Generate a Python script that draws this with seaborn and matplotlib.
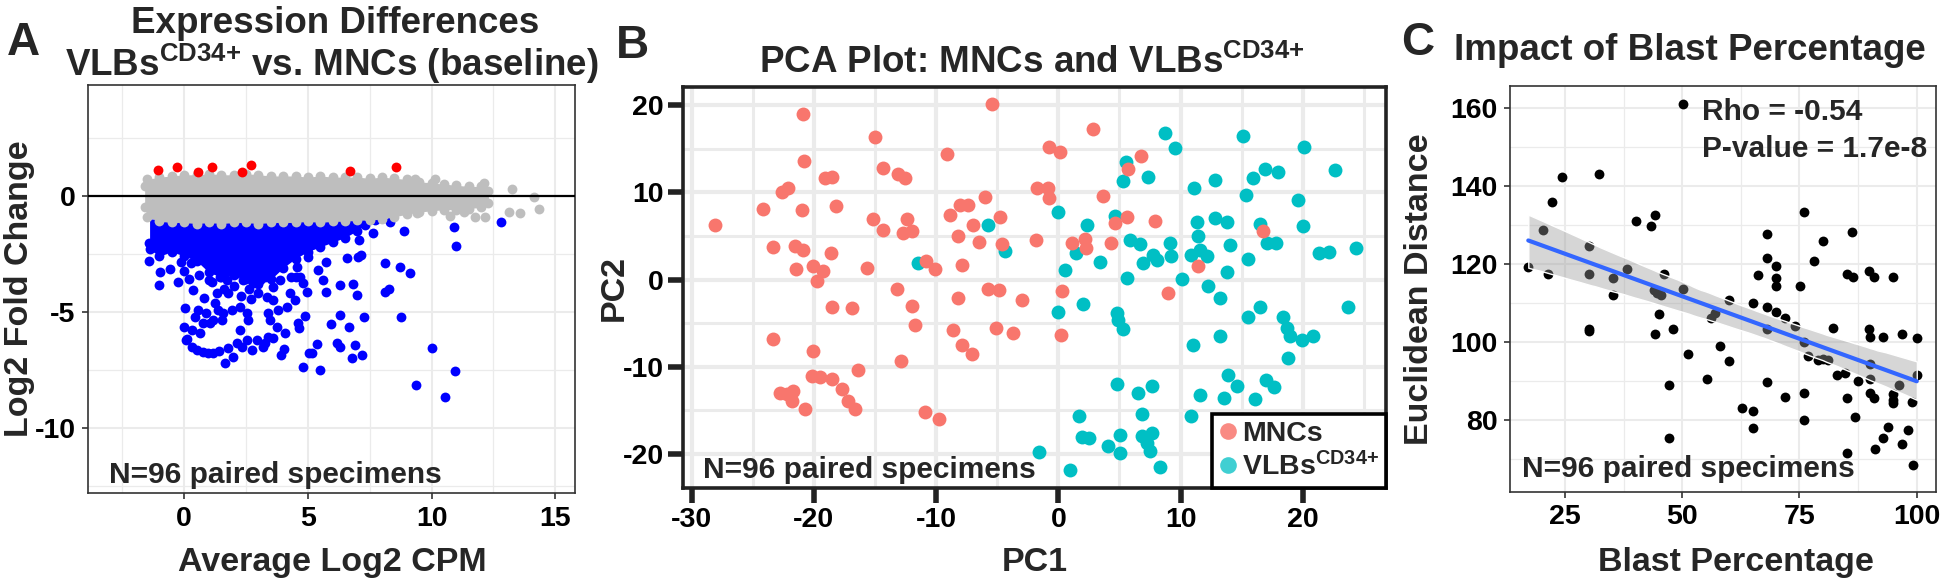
import numpy as np
import pandas as pd
import matplotlib
matplotlib.use("Agg")
import matplotlib.pyplot as plt
import matplotlib.transforms as mtransforms
from matplotlib.lines import Line2D
import seaborn as sns

# ---------------- Panel A: MA plot ----------------
# dense band of non-significant genes (grey), given by its upper / lower edge
grey_band_x = [-1.6, -1.5, -1.0, -0.5, 0.0, 0.5, 1.0, 1.5, 2.0, 2.5, 3.0, 3.5, 4.0, 4.5, 5.0,
               5.5, 6.0, 6.5, 7.0, 7.5, 8.0, 8.5, 9.0, 9.5, 10.0, 10.5, 11.0, 11.5, 12.0, 12.3]
grey_band_top = [0.4, 0.7, 0.8, 0.85, 0.9, 0.9, 0.95, 0.9, 0.9, 0.95, 0.9, 0.85, 0.85, 0.85, 0.8,
                 0.85, 0.8, 0.8, 0.8, 0.75, 0.8, 0.75, 0.7, 0.6, 0.55, 0.5, 0.45, 0.4, 0.4, 0.2]
grey_band_bot = [-0.5, -0.9, -1.1, -1.15, -1.15, -1.2, -1.15, -1.2, -1.15, -1.15, -1.2, -1.15, -1.15, -1.15, -1.1,
                 -1.15, -1.1, -1.1, -1.05, -1.05, -1.0, -0.9, -0.8, -0.7, -0.65, -0.6, -0.6, -0.55, -0.5, -0.3]
# isolated grey genes at high expression
grey_x = [9.34, 10.15, 12.11, 13.25, 14.13, 14.33, 13.12, 13.56, 12.17, 11.77, 10.76, 9.41, 11.30, 9.14, 11.84, 11.43]
grey_y = [0.72, 0.74, 0.53, 0.29, -0.04, -0.59, -0.72, -0.76, -0.90, -0.90, -0.86, -0.76, -0.69, -0.47, 0.10, 0.24]

# dense core of down-regulated genes (blue): lower edge, upper edge sits under the grey band
blue_core_x = [-1.4, -1.0, -0.5, 0.0, 0.5, 1.0, 1.5, 2.0, 2.5, 3.0, 3.5, 4.0, 4.5, 5.0, 5.5, 6.0, 6.5, 7.0, 7.3]
blue_core_bot = [-2.3, -2.6, -2.4, -2.6, -2.8, -3.3, -3.5, -3.4, -3.6, -3.8, -3.6, -3.1, -2.7, -2.4, -2.2, -2.0, -1.8, -1.5, -1.25]
blue_core_top = -1.0
# individual down-regulated genes
blue_x = [-1.42, -1.42, -0.99, -1.01, -0.58, -0.24, -0.11, -0.01, 0.27, 0.36, 0.03, -0.01, 0.13, 0.30, 0.43,
          0.57, 0.63, 0.90, 0.77, 1.04, 1.17, 1.00, 1.11, 1.44, 1.31, 1.24, 1.38, 1.58, 1.51, 1.78,
          1.92, 1.71, 2.12, 2.25, 2.39, 2.52, 2.59, 2.25, 2.70, 2.79, 2.93, 3.06, 3.27, 3.33, 3.40,
          3.47, 3.60, 3.74, 3.81, 3.87, 4.08, 4.14, 4.28, 4.48, 4.52, 4.55, 4.68, 4.82, 4.95, 5.02,
          5.40, 5.63, 5.74, 5.74, 6.30, 6.57, 6.84, 6.98, 7.04, 7.15, 7.07, 7.65, 7.72, 8.12, 8.33,
          8.73, 8.87, 9.11, 8.12, 8.26, 8.77, 7.25, 6.30, 5.92, 6.65, 4.62, 4.64, 4.89,
          0.09, 0.30, 0.50, 0.77, 0.97, 1.17, 1.42, 1.65, 1.78, 1.98, 2.12, 2.32, 2.52, 2.73, 2.93,
          3.20, 3.27, 3.40, 3.60, 3.90, 4.04, 5.06, 5.16, 5.36, 4.82, 5.49, 6.17, 6.28, 6.77, 6.91, 7.18,
          10.01, 10.93, 9.38, 10.53, 10.89, 11.00, 12.81,
          0.6, 1.6, 2.0, 2.6, 3.0, 3.6, 0.2, 3.9, 1.2, 0.8, 2.3, 4.3]
blue_y = [-2.05, -2.79, -3.27, -3.84, -3.17, -3.70, -2.87, -3.22, -2.91, -4.05, -4.81, -5.63, -6.17, -5.77, -5.20,
          -4.91, -5.92, -5.06, -5.49, -5.49, -5.34, -3.62, -3.70, -3.48, -4.20, -4.63, -4.91, -5.06, -5.34, -4.20,
          -4.91, -3.62, -3.34, -4.77, -3.62, -5.06, -5.34, -5.77, -4.46, -3.77, -3.19, -3.62, -3.48, -4.34, -5.06,
          -5.34, -3.91, -5.63, -4.91, -3.62, -5.92, -4.77, -4.20, -4.48, -3.48, -3.05, -3.48, -3.77, -4.13, -2.62,
          -3.19, -3.62, -2.84, -4.13, -3.84, -2.69, -3.80, -4.27, -2.62, -2.55, -1.91, -1.62, -1.05, -2.91, -1.12,
          -3.05, -1.52, -3.34, -4.13, -4.03, -5.23, -5.23, -5.13, -5.53, -5.66, -5.49, -5.70, -5.17,
          -6.20, -6.49, -6.63, -6.70, -6.78, -6.75, -6.68, -7.18, -6.56, -6.92, -6.35, -6.49, -6.20, -6.63, -6.20,
          -6.49, -6.35, -6.06, -6.13, -6.86, -6.60, -6.75, -6.78, -6.39, -7.35, -7.49, -6.35, -6.49, -6.99, -6.42, -6.85,
          -6.53, -7.55, -8.14, -8.64, -1.33, -2.15, -1.13,
          -3.4, -4.0, -3.9, -4.0, -4.2, -4.5, -3.6, -3.0, -2.9, -4.4, -4.3, -3.5]
# up-regulated genes
red_x = [-1.05, -0.31, 0.57, 1.11, 2.32, 2.70, 6.71, 8.58]
red_y = [1.10, 1.22, 1.03, 1.22, 1.03, 1.30, 1.07, 1.22]

# ---------------- Panel B: PCA ----------------
mnc_pc1 = [-28.09, -24.19, -23.32, -23.32, -22.63, -22.09, -20.92, -20.81, -21.00, -21.49, -21.55, -20.86,
           -20.04, -19.77, -19.23, -19.09, -18.55, -18.22, -18.60, -18.55, -20.10, -20.18, -19.50, -18.55,
           -17.73, -17.18, -16.64, -16.36, -16.86, -22.77, -22.23, -21.82, -21.68, -20.73, -15.68, -15.14,
           -15.00, -14.37, -14.37, -13.23, -13.09, -12.55, -12.41, -12.68, -12.00, -12.00, -11.70, -12.87,
           -10.83, -10.09, -10.91, -9.74, -9.14, -8.86, -8.18, -8.04, -7.91, -7.36, -8.18, -8.59, -7.91,
           -7.09, -6.95, -6.46, -5.99, -5.73, -4.83, -4.77, -4.64, -5.10, -5.45, -3.68, -3.00,
           -1.82, -0.74, 0.14, -1.77, -0.82, -0.74, 2.81, 3.63, 0.28, 0.22, 1.09, 2.18, 2.27, 4.29, 4.64,
           5.59, 5.67, 6.74, 7.91, 9.00, 11.46, 16.78]
mnc_pc2 = [6.22, 8.09, 3.74, -6.79, 10.11, 10.50, 18.97, 13.63, 8.02, 1.22, 3.82, 3.44,
           1.53, -0.19, 0.95, 11.64, 11.83, 8.40, 3.05, -3.17, -8.21, -11.07, -11.18, -11.45,
           -12.60, -13.93, -14.89, -10.31, -3.24, -12.98, -13.17, -13.93, -12.79, -14.81, 1.34, 6.95,
           16.41, 12.86, 5.65, -1.07, 12.14, 11.64, 6.95, 5.34, 5.53, -3.05, -5.23, -9.35,
           2.10, 1.22, -15.19, -16.03, 14.39, 7.44, 4.96, 8.59, 1.72, 8.59, -2.10, -5.80, -7.44,
           -8.51, 6.30, 4.27, 9.47, -1.07, -1.22, 7.18, 4.12, -5.53, 20.15, -6.11, -2.29,
           4.58, 15.27, 14.69, 10.50, 10.50, 9.35, 17.25, 9.54, -1.34, -6.30, 4.20, 4.66, 3.63, 4.20, 6.49,
           7.18, 12.67, 14.20, 6.68, -1.53, 1.53, 5.53]
vlb_pc1 = [-11.46, -5.73, -4.36,
           -0.05, 0.55, 0.00, 1.45, 2.05, 2.38, 3.41, 4.64, 5.26, 5.54, 5.59, 5.87, 6.69, 6.90, 7.37,
           7.78, 8.05, 8.73, 9.14, 9.20, 9.55, 10.10, 10.83, 11.13, 11.38, 11.46, 11.60, 12.14, 12.28,
           12.82, 12.82, 13.23, 13.78, 13.78, 14.05, 15.09, 15.36, 15.55, 15.55, 15.96, 16.50, 16.50,
           16.91, 17.05, 17.81, 18.00, 18.41, 18.69, 18.96, 18.82, 19.64, 20.00, 19.91, 20.10, 20.87,
           21.28, 22.10, 22.64, 23.73, 24.36, 4.77, 4.91, 5.26, 11.00, 13.23, 4.77, 6.55, 7.64, 6.82,
           1.72, 1.91, 2.54, 4.09, 5.05, 5.05, 6.82, 7.64, 7.23, 7.50, 8.32, -1.55, 0.95, 10.83, 11.60,
           13.56, 13.91, 14.59, 16.09, 16.99, 17.65]
vlb_pc2 = [1.91, 6.22, 3.32,
           7.75, 1.07, -3.74, 3.05, -2.75, 6.22, 1.98, 7.25, 11.26, 13.55, 0.19, 4.58, 4.12, 1.91, 11.83,
           2.86, 2.29, 16.79, 4.20, 2.75, 15.08, 0.08, 2.86, 10.50, 6.56, 4.96, 3.44, 2.67, -0.69,
           11.45, 7.06, -2.10, 6.56, 0.84, 4.01, 16.49, 9.73, 2.37, -4.27, 11.64, 6.41, -3.13,
           12.67, 4.20, 4.20, 12.40, -4.27, -5.53, -6.49, -8.97, 9.16, 6.11, -6.87, 15.27, -6.49,
           3.05, 3.13, 12.60, -3.13, 3.63, -3.82, -4.58, -5.65, -7.44, -6.41, -12.02, -12.98, -12.21, -15.46,
           -15.65, -18.02, -18.13, -19.08, -17.86, -19.85, -17.94, -17.56, -18.78, -19.66, -21.45, -19.77, -21.87,
           -15.65, -13.28, -13.55, -10.99, -12.21, -13.74, -11.56, -12.29]

# ---------------- Panel C: blast percentage vs distance ----------------
blast_pct = [17.2, 20.4, 21.3, 22.3, 24.4, 30.2, 30.2, 30.2, 30.2, 32.2, 35.3, 35.3, 38.3, 40.1, 43.3,
             44.2, 44.0, 44.7, 45.4, 45.1, 44.2, 46.2, 47.2, 47.2, 48.1, 50.1, 50.1, 51.3, 55.2, 56.1,
             57.0, 58.0, 60.0, 60.0, 62.7, 65.2, 65.2, 65.2, 66.1, 68.0, 68.0, 68.0, 68.0, 68.0, 70.0,
             70.0, 70.0, 70.0, 71.9, 71.9, 74.0, 75.1, 76.0, 76.0, 76.0, 76.0, 76.9, 78.0, 79.0, 80.1,
             80.1, 81.1, 82.1, 83.1,
             86.1, 85.1, 86.5, 89.9, 90.8, 94.9, 89.9, 90.0, 92.7, 96.8, 100.0, 90.0, 84.7, 87.5, 90.0,
             100.0, 96.3, 90.0, 90.8, 95.0, 95.0, 95.0, 98.9, 86.8, 93.9, 92.9, 98.2, 96.8, 91.1, 99.1,
             85.1, 85.1]
eucl_dist = [119.1, 128.8, 117.5, 135.8, 142.2, 124.6, 117.5, 103.4, 102.8, 143.0, 116.4, 111.9, 118.6, 131.1, 129.8,
             132.5, 113.3, 112.4, 112.1, 107.1, 102.0, 117.5, 88.9, 75.4, 103.3, 161.0, 113.6, 97.0, 90.6, 106.0,
             107.5, 99.0, 110.7, 95.1, 83.1, 110.0, 82.2, 77.9, 117.1, 127.6, 121.4, 109.0, 103.4, 89.6, 119.5,
             116.3, 114.4, 107.7, 106.2, 85.9, 104.1, 114.4, 133.2, 100.0, 87.0, 79.9, 96.4, 120.7, 95.3, 125.8,
             95.6, 95.3, 103.6, 91.4,
             128.2, 117.5, 116.5, 118.2, 116.5, 116.5, 103.2, 101.3, 101.3, 102.0, 100.9, 94.4, 91.9, 90.0, 90.6,
             91.4, 88.9, 86.9, 85.5, 86.7, 85.0, 84.2, 84.6, 80.8, 78.2, 75.4, 77.5, 73.9, 72.6, 68.3,
             85.6, 71.6]

MNC_COLOR = "#F8766D"
VLB_COLOR = "#00BFC4"
SUP = r"$^{\text{CD34+}}$"

# ---------------- style ----------------
sns.set_style("white")
plt.rcParams["font.family"] = ["Liberation Sans", "DejaVu Sans"]
plt.rcParams["font.weight"] = "bold"
plt.rcParams["axes.labelweight"] = "bold"
plt.rcParams["axes.unicode_minus"] = False
plt.rcParams["mathtext.fontset"] = "custom"
plt.rcParams["mathtext.rm"] = "Liberation Sans:bold"
plt.rcParams["mathtext.bf"] = "Liberation Sans:bold"
plt.rcParams["mathtext.it"] = "Liberation Sans:bold"

W, H = 1943, 586
fig = plt.figure(figsize=(W / 100, H / 100), dpi=100)
# transform for positions given in figure pixels measured from the top-left corner
px = mtransforms.Affine2D().scale(1 / W, -1 / H).translate(0, 1) + fig.transFigure


def panel(l, t, r, b):
    return fig.add_axes([l / W, 1 - b / H, (r - l) / W, (b - t) / H])


def style(ax, gmaj, gmin, spine_w, spine_c, tlen, twid, pad):
    ax.set_axisbelow(True)
    ax.grid(True, which="major", color="#EBEBEB", lw=gmaj)
    ax.grid(True, which="minor", color="#EBEBEB", lw=gmin)
    for sp in ax.spines.values():
        sp.set_visible(True)
        sp.set_linewidth(spine_w)
        sp.set_color(spine_c)
    ax.tick_params(which="major", bottom=True, left=True, length=tlen, width=twid,
                   color=spine_c, pad=pad, labelsize=20.5, labelcolor="black")
    ax.tick_params(which="minor", length=0)


FS_LAB = 24.5
FS_NOTE = 21.5

# ---------------- Panel A ----------------
axA = panel(88, 85, 575, 493)
axA.fill_between(blue_core_x, blue_core_bot, blue_core_top, color="blue", lw=0, zorder=2)
sns.scatterplot(x=blue_core_x, y=blue_core_bot, ax=axA, color="blue", s=50, linewidth=0, zorder=2)
sns.scatterplot(x=blue_x, y=blue_y, ax=axA, color="blue", s=50, linewidth=0, zorder=2)
axA.fill_between(grey_band_x, grey_band_bot, grey_band_top, color="#BEBEBE", lw=0, zorder=3)
sns.scatterplot(x=grey_band_x + grey_band_x, y=grey_band_top + grey_band_bot, ax=axA,
                color="#BEBEBE", s=50, linewidth=0, zorder=3)
sns.scatterplot(x=grey_x, y=grey_y, ax=axA, color="#BEBEBE", s=50, linewidth=0, zorder=3)
sns.scatterplot(x=red_x, y=red_y, ax=axA, color="red", s=50, linewidth=0, zorder=4)
axA.axhline(0, color="black", lw=1.6, zorder=5)
axA.set_xlim(-3.89, 15.8)
axA.set_ylim(-12.78, 4.76)
axA.set_xticks([0, 5, 10, 15])
axA.set_yticks([-10, -5, 0])
axA.set_xticks([-2.5, 2.5, 7.5, 12.5], minor=True)
axA.set_yticks([-12.5, -7.5, -2.5, 2.5], minor=True)
style(axA, 1.5, 0.9, 1.2, "#333333", 4, 1.2, 5)
axA.set_xlabel("Average Log2 CPM", fontsize=FS_LAB, va="baseline")
axA.set_ylabel("Log2 Fold Change", fontsize=FS_LAB, va="center")
axA.xaxis.set_label_coords(332, 571, transform=px)
axA.yaxis.set_label_coords(20, 289, transform=px)
fig.text(109, 483, "N=96 paired specimens", transform=px, fontsize=FS_NOTE, va="baseline")

# ---------------- Panel B ----------------
axB = panel(683, 87, 1386, 488)
sns.scatterplot(x=vlb_pc1, y=vlb_pc2, ax=axB, color=VLB_COLOR, s=100, linewidth=0, zorder=2)
sns.scatterplot(x=mnc_pc1, y=mnc_pc2, ax=axB, color=MNC_COLOR, s=100, linewidth=0, zorder=2)
axB.set_xlim(-30.7, 26.8)
axB.set_ylim(-23.9, 22.1)
axB.set_xticks([-30, -20, -10, 0, 10, 20])
axB.set_yticks([-20, -10, 0, 10, 20])
axB.set_xticks([-25, -15, -5, 5, 15, 25], minor=True)
axB.set_yticks([-15, -5, 5, 15], minor=True)
style(axB, 3.0, 2.2, 2.6, "#222222", 11, 4, 3)
axB.set_xlabel("PC1", fontsize=FS_LAB, va="baseline")
axB.set_ylabel("PC2", fontsize=FS_LAB, va="center")
axB.xaxis.set_label_coords(1035, 571, transform=px)
axB.yaxis.set_label_coords(614, 288, transform=px)
fig.text(703, 478, "N=96 paired specimens", transform=px, fontsize=FS_NOTE, va="baseline")
handles = [Line2D([], [], ls="", marker="o", markersize=12, color=MNC_COLOR, alpha=0.85, mew=0),
           Line2D([], [], ls="", marker="o", markersize=12, color=VLB_COLOR, alpha=0.75, mew=0)]
leg = axB.legend(handles, ["MNCs", "VLBs" + SUP], loc="lower right",
                 bbox_to_anchor=(1, 0), borderaxespad=0, frameon=True, fancybox=False,
                 edgecolor="black", framealpha=1, handlelength=0.6, handletextpad=0.2,
                 borderpad=0.25, labelspacing=0.15, fontsize=20.5)
leg.get_frame().set_linewidth(2.6)

# ---------------- Panel C ----------------
axC = panel(1510, 86, 1936, 492)
sns.scatterplot(x=blast_pct, y=eucl_dist, ax=axC, color="black", s=50, linewidth=0, zorder=2)
sns.regplot(x=np.array(blast_pct), y=np.array(eucl_dist), ax=axC, scatter=False, ci=95, seed=3,
            color="#3366FF", line_kws=dict(lw=3.0, zorder=4))
for coll in axC.collections[1:]:
    coll.set_alpha(None)
    coll.set_facecolor((0.6, 0.6, 0.6, 0.4))
    coll.set_zorder(3)
axC.set_xlim(13.3, 104.1)
axC.set_ylim(61.5, 165.6)
axC.set_xticks([25, 50, 75, 100])
axC.set_yticks([80, 100, 120, 140, 160])
axC.set_xticks([37.5, 62.5, 87.5], minor=True)
axC.set_yticks([70, 90, 110, 130, 150], minor=True)
style(axC, 1.5, 0.9, 1.2, "#333333", 4, 1.2, 5)
axC.set_xlabel("Blast Percentage", fontsize=FS_LAB, va="baseline")
axC.set_ylabel("Euclidean Distance", fontsize=FS_LAB, va="center")
axC.xaxis.set_label_coords(1736, 571, transform=px)
axC.yaxis.set_label_coords(1420, 289, transform=px)
fig.text(1522, 477, "N=96 paired specimens", transform=px, fontsize=FS_NOTE, va="baseline")
fig.text(1702, 120, "Rho = -0.54", transform=px, fontsize=FS_NOTE, va="baseline")
fig.text(1702, 157, "P-value = 1.7e-8", transform=px, fontsize=FS_NOTE, va="baseline")

# ---------------- titles and panel letters ----------------
fig.text(335, 33, "Expression Differences", transform=px, fontsize=26.5, ha="center", va="baseline")
fig.text(332, 76, "VLBs" + SUP + " vs. MNCs (baseline)", transform=px, fontsize=26.5,
         ha="center", va="baseline")
fig.text(1032, 73, "PCA Plot: MNCs and VLBs" + SUP, transform=px, fontsize=26.5,
         ha="center", va="baseline")
fig.text(1690, 60, "Impact of Blast Percentage", transform=px, fontsize=26.5, ha="center", va="baseline")
fig.text(7, 55, "A", transform=px, fontsize=33, va="baseline")
fig.text(616, 58, "B", transform=px, fontsize=33, va="baseline")
fig.text(1401, 55, "C", transform=px, fontsize=33, va="baseline")

fig.savefig("out.png", dpi=100)
print("Figure saved: out.png")
